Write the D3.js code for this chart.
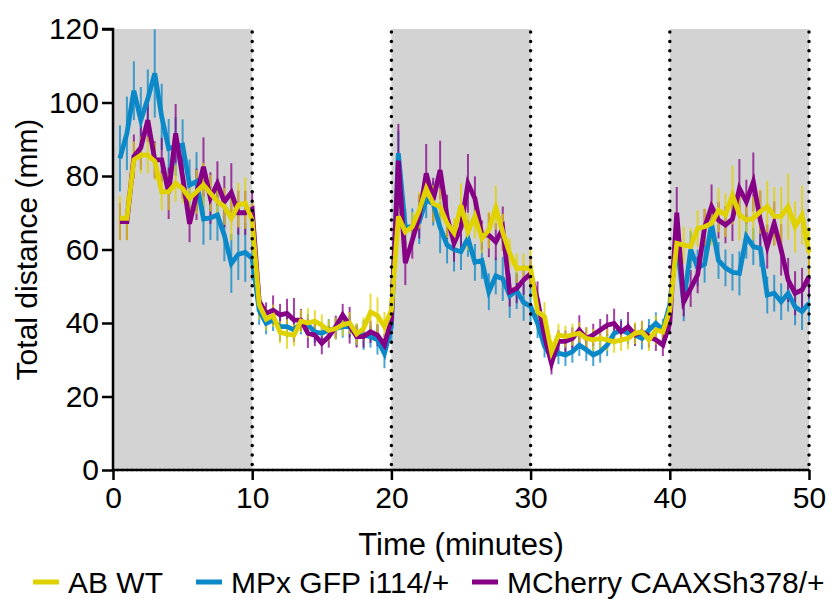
<!DOCTYPE html>
<html><head><meta charset="utf-8">
<script src="https://cdn.jsdelivr.net/npm/d3@7"></script>
<style>body{margin:0;background:#fff}svg{display:block}</style>
</head><body>
<svg id="c" width="838" height="599"></svg>
<script>
const time = [0.5,1,1.5,2,2.5,3,3.5,4,4.5,5,5.5,6,6.5,7,7.5,8,8.5,9,9.5,10,
10.5,11,11.5,12,12.5,13,13.5,14,14.5,15,15.5,16,16.5,17,17.5,18,18.5,19,19.5,20,
20.5,21,21.5,22,22.5,23,23.5,24,24.5,25,25.5,26,26.5,27,27.5,28,28.5,29,29.5,30,
30.5,31,31.5,32,32.5,33,33.5,34,34.5,35,35.5,36,36.5,37,37.5,38,38.5,39,39.5,40,
40.5,41,41.5,42,42.5,43,43.5,44,44.5,45,45.5,46,46.5,47,47.5,48,48.5,49,49.5,50];

const abWT = [68.5,68.5,84.4,85.7,85.7,84,75.7,75.7,78,76.6,73.9,75.7,77.6,75.3,73.1,71.7,68.5,72.1,72.6,68,
45,41,42,37.5,37,36.7,40.5,40,40.5,39.4,38,38.5,39.5,40,37,38.5,43,42,39,43.5,
69,64.8,66.2,70.7,76.6,72.5,71.6,67.1,64.5,72,64.8,69,63,65.3,71.4,64.7,59,54.9,54.9,55,
43.1,41.7,32.2,36.8,36.3,36.8,37.2,35.8,35.4,35.8,35.4,34.9,35.4,35.8,37.2,37.6,35.4,38.1,37.6,43.5,
61.7,61.2,60.8,65.7,66.2,67.1,70.7,69.4,74.8,69.5,68,68.5,70.3,71.7,69,69,71.7,66.2,69.4,59.2];
const abWTErr = [6,6,5,5,5,5,5,5,5,4,5,6,6,5,5,5,6,6,7,5,
4,3,3,3,4,3,3,4,3,3,3,3,3,3,3,3,5,5,4,5,
6,5,4,5,4,5,5,4,4,6,5,6,4,5,6,5,4,4,4,5,
5,4,3,3,3,3,3,3,3,3,3,3,3,3,3,3,3,4,3,4,
6,5,5,5,5,6,6,6,8,7,5,6,6,7,8,8,9,7,8,7];

const mpx = [84.8,91.6,103.2,95.2,101,107.9,96.1,87.5,88,88.4,77.5,78.5,68.3,68.6,69.4,63.8,56.2,58.7,59.2,57.6,
43.5,39.9,40.8,39,39,38.1,39.9,39.5,37.6,37.2,38.1,38.5,39,39,36.7,36.7,36.3,35.4,31.7,39,
86.2,66,66.2,67.5,73.5,72.5,66,61.2,60,59.4,63,56.5,57,48.5,52.8,52,47.4,48.8,45.6,44.5,
39.9,33.6,30.8,31.8,31.3,32.2,34,32.7,31.3,32.2,34,37.2,38.1,37.2,36.8,35.8,38.1,39.9,38.1,45,
62.3,45.5,60,55,56,67,57,55,53.8,53.5,63.5,60.8,60.3,47.6,48.1,45.8,48.1,44.4,43.1,45.4];
const mpxErr = [9,10,8,9,8,12,9,8,8,7,7,8,7,6,7,7,8,7,8,6,
4,3,3,4,3,3,3,3,3,3,3,3,3,3,3,4,3,4,4,4,
6,5,5,6,5,6,7,5,6,5,5,5,5,5,5,6,6,5,5,5,
4,3,3,3,3,3,3,3,3,3,3,3,3,3,3,3,3,3,3,4,
6,5,5,5,5,5,5,5,5,6,6,5,5,5,5,5,5,5,5,5];

const mcherry = [67.6,67.6,85.3,87.7,95.2,84.4,84.4,75.3,91.6,79.8,67,75,82.5,74,78,73,75.5,70,70,71,
46,42.6,43.5,42.2,42.6,40.8,40.8,37.2,36.7,34.5,36.3,39,42.2,39.4,36.3,36.3,37.6,36.7,34,41,
84.2,56.3,62.5,69,80.7,73.5,81.6,68.9,61.7,66,78,73.9,63.9,63.9,62.1,65.7,48.5,49.4,51.7,53.4,
46.3,36.3,29,35,35,35.8,38.1,35.8,36.8,38.1,39.4,39.9,37.6,39,36.8,37.6,36.3,35.4,34,40,
70,45.8,49.4,53.1,66,71.7,68,66.7,68.3,76.6,73,78.4,68,60.8,67.1,59.9,51.7,48.1,49,52.6];
const mcherryErr = [5,5,6,6,6,5,6,7,8,6,5,7,8,7,6,7,8,6,6,5,
4,3,4,3,4,6,3,4,3,3,3,3,3,5,3,3,3,3,3,3,
10,6,5,6,8,6,8,6,5,6,8,6,4,6,5,6,4,4,4,4,
5,3,3,3,3,3,4,3,3,3,3,4,3,4,3,3,3,3,3,3,
7,4,5,5,5,6,5,5,6,8,6,8,8,6,6,7,6,6,6,6];

const seriesNames = ["AB WT", "MPx GFP i114/+", "MCherry CAAXSh378/+"];
const shadedBlocks = [[0,10],[20,30],[40,50]];
const dottedAt = [10,20,30,40,50];
const xTicks = [0,10,20,30,40,50];
const yTicks = [0,20,40,60,80,100,120];

const colors = {"AB WT":"#e0d200","MPx GFP i114/+":"#0a88c8","MCherry CAAXSh378/+":"#860086"};
const series = [
  {name:seriesNames[1], v:mpx, e:mpxErr},
  {name:seriesNames[2], v:mcherry, e:mcherryErr},
  {name:seriesNames[0], v:abWT, e:abWTErr}
];

const svg = d3.select("#c");
const L=113,R=809,T=29,B=470;
const x = d3.scaleLinear().domain([0,50]).range([L,R]);
const y = d3.scaleLinear().domain([0,120]).range([B,T]);
const font = "'Liberation Sans', Arial, Helvetica, sans-serif";

svg.append("rect").attr("width",838).attr("height",599).attr("fill","#fff");

svg.selectAll("rect.shade").data(shadedBlocks).enter().append("rect")
  .attr("x",d=>x(d[0])).attr("width",d=>x(d[1])-x(d[0]))
  .attr("y",y(120)).attr("height",y(0)-y(120)).attr("fill","#d3d3d3");

series.forEach(s=>{
  const g = svg.append("g");
  g.selectAll("line").data(time).enter().append("line")
    .attr("x1",(d)=>x(d)).attr("x2",(d)=>x(d))
    .attr("y1",(d,i)=>y(s.v[i]+s.e[i])).attr("y2",(d,i)=>y(s.v[i]-s.e[i]))
    .attr("stroke",colors[s.name]).attr("stroke-width",2).attr("opacity",0.75);
});
series.forEach(s=>{
  const line = d3.line().x((d)=>x(d)).y((d,i)=>y(s.v[i]));
  svg.append("path").datum(time).attr("d",line).attr("fill","none")
    .attr("stroke",colors[s.name]).attr("stroke-width",4.8).attr("stroke-linejoin","miter");
});

svg.selectAll("line.dot").data(dottedAt).enter().append("line")
  .attr("x1",d=>x(d)).attr("x2",d=>x(d)).attr("y1",y(120)+3).attr("y2",y(0))
  .attr("stroke","#000").attr("stroke-width",3.5).attr("stroke-linecap","round")
  .attr("stroke-dasharray","0,9.4");

const yAxis = d3.axisLeft(y).tickValues(yTicks).tickSize(11).tickPadding(3);
const xAxis = d3.axisBottom(x).tickValues(xTicks).tickSize(10).tickPadding(7);
const gy = svg.append("g").attr("transform",`translate(${L},0)`).call(yAxis);
const gx = svg.append("g").attr("transform",`translate(0,${B})`).call(xAxis);
[gx,gy].forEach(g=>{
  g.select(".domain").attr("stroke","#000").attr("stroke-width",2.5);
  g.selectAll(".tick line").attr("stroke","#000").attr("stroke-width",2.5);
  g.selectAll("text").attr("font-family",font).attr("font-size",30).attr("fill","#000");
});
gy.select(".domain").attr("d",`M-11,${y(120)}H0V${y(0)}`);
gx.select(".domain").attr("d",`M${x(0)},0H${x(50)}`);

svg.append("line").attr("x1",x(0)).attr("x2",x(50)).attr("y1",y(0)).attr("y2",y(0))
  .attr("stroke","#000").attr("stroke-width",2.6).attr("stroke-linecap","round")
  .attr("stroke-dasharray","0,4.7");

svg.append("text").attr("x",(L+R)/2).attr("y",555).attr("text-anchor","middle")
  .attr("font-family",font).attr("font-size",31).text("Time (minutes)");
svg.append("text").attr("transform",`translate(37,${(T+B)/2}) rotate(-90)`)
  .attr("text-anchor","middle").attr("font-family",font).attr("font-size",30)
  .text("Total distance (mm)");

const legendItems = [
  {name:seriesNames[0], x0:33},
  {name:seriesNames[1], x0:196},
  {name:seriesNames[2], x0:472}
];
const lg = svg.append("g");
legendItems.forEach(it=>{
  lg.append("line").attr("x1",it.x0).attr("x2",it.x0+26).attr("y1",582).attr("y2",582)
    .attr("stroke",colors[it.name]).attr("stroke-width",5);
  lg.append("text").attr("x",it.x0+35).attr("y",593).attr("font-family",font)
    .attr("font-size",30).text(it.name);
});
</script>
</body></html>
